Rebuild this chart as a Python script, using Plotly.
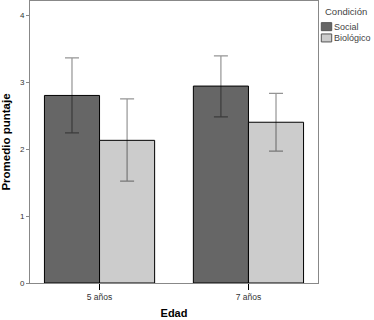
import plotly.graph_objects as go

categories = ["5 años", "7 años"]
series_names = ["Social", "Biológico"]
social_vals = [2.80, 2.94]
bio_vals = [2.13, 2.40]
social_hi = [3.36, 3.39]
social_lo = [2.24, 2.48]
bio_hi = [2.75, 2.83]
bio_lo = [1.52, 1.97]
y_ticks = [0, 1, 2, 3, 4]
colors = ["#666666", "#cccccc"]

FONT = "Liberation Sans, Arial, sans-serif"

fig = go.Figure()
for name, vals, hi, lo, col in [
    (series_names[0], social_vals, social_hi, social_lo, colors[0]),
    (series_names[1], bio_vals, bio_hi, bio_lo, colors[1]),
]:
    fig.add_trace(go.Bar(
        x=categories, y=vals, name=name,
        marker=dict(color=col, line=dict(color="#000000", width=1)),
        error_y=dict(type="data", symmetric=False,
                     array=[h - v for h, v in zip(hi, vals)],
                     arrayminus=[v - l for v, l in zip(vals, lo)],
                     color="rgba(0,0,0,0.42)", thickness=1.2, width=7),
        showlegend=False,
    ))

fig.update_layout(
    width=374, height=320,
    margin=dict(l=30, r=56, t=1, b=37, autoexpand=False),
    paper_bgcolor="white", plot_bgcolor="white",
    barmode="group", bargap=0.26, bargroupgap=0,
    font=dict(family=FONT, size=8, color="#444444"),
    xaxis=dict(
        type="category", range=[-0.467, 1.467], automargin=False,
        showline=True, linecolor="#888888", linewidth=1, mirror=True,
        ticks="outside", ticklen=6, tickcolor="#000000", tickwidth=1,
        tickfont=dict(size=8.5, color="#333333"),
        title=dict(text="<b>Edad</b>", font=dict(size=11, color="#000000"), standoff=8),
        showgrid=False, zeroline=False,
    ),
    yaxis=dict(
        range=[0, 4.21], tickvals=y_ticks, automargin=False,
        showline=True, linecolor="#888888", linewidth=1, mirror=True,
        ticks="outside", ticklen=3, tickcolor="#888888",
        tickfont=dict(size=8, color="#333333"),
        title=dict(text="<b>Promedio puntaje</b>", font=dict(size=11.5, color="#000000"), standoff=6),
        showgrid=False, zeroline=False,
    ),
)

# manual legend (swatches + labels)
fig.add_annotation(text="Condición", xref="paper", yref="paper", x=1.019, y=0.961,
                   xanchor="left", yanchor="middle", showarrow=False,
                   font=dict(size=9.5, color="#444444"))
sw_y = [0.909, 0.869]
for name, col, yy in zip(series_names, colors, sw_y):
    fig.add_shape(type="rect", xref="paper", yref="paper",
                  x0=1.0115, x1=1.0476, y0=yy - 0.0142, y1=yy + 0.0142,
                  fillcolor=col, line=dict(color="#555555", width=1))
    fig.add_annotation(text=name, xref="paper", yref="paper", x=1.047, y=yy,
                       xanchor="left", yanchor="middle", showarrow=False,
                       font=dict(size=9, color="#444444"))

fig.write_html("out.html", config={"displayModeBar": False},
               post_script="document.body.style.margin='0';document.body.style.overflow='hidden';")
